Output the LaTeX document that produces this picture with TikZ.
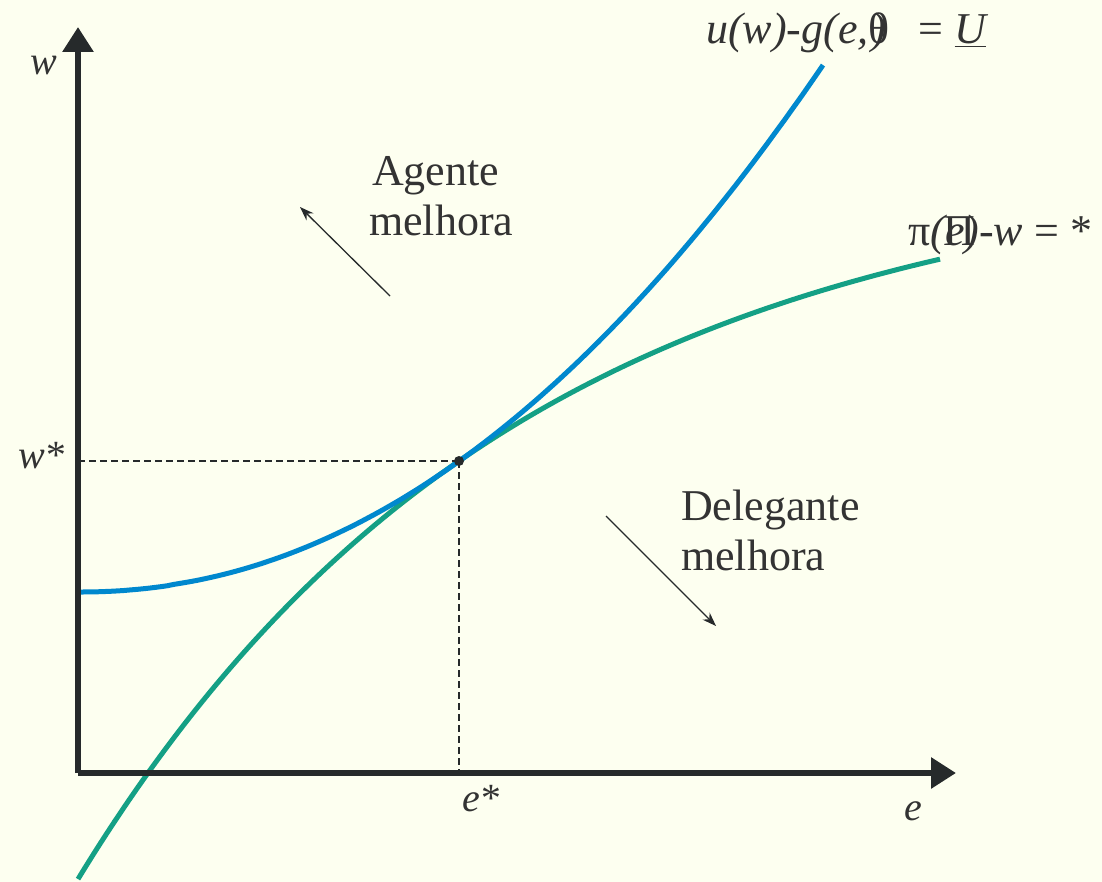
\documentclass[tikz,border=0pt]{standalone}
\usepackage{fontspec}
\setmainfont{Liberation Serif}
\usetikzlibrary{arrows.meta}
\definecolor{bg}{RGB}{253,255,240}
\definecolor{axc}{RGB}{38,42,43}
\definecolor{bluec}{RGB}{0,136,206}
\definecolor{greenc}{RGB}{20,160,133}
\definecolor{txt}{RGB}{51,51,51}
\tikzset{
  axis/.style={draw=axc,line width=6pt,-{Triangle[width=30pt,length=25pt]}},
  curve/.style={line width=5pt},
  guide/.style={draw=axc,line width=1.2pt,dash pattern=on 7pt off 4pt},
  hint/.style={draw=axc,line width=1.3pt,-{Stealth[width=10pt,length=14pt]}},
  lbl/.style={text=txt,font=\fontsize{40}{46}\selectfont\itshape,inner sep=0pt},
  clbl/.style={text=txt,font=\fontsize{44}{50}\selectfont\itshape,inner sep=0pt},
  body/.style={text=txt,font=\fontsize{44}{50}\selectfont,align=left,inner sep=0pt}
}
\begin{document}
\begin{tikzpicture}[x=1pt,y=-1pt]
\fill[bg] (0,0) rectangle (1102,882);
\useasboundingbox (0,0) rectangle (1102,882);
\coordinate (O) at (78,773);
\coordinate (ytip) at (78,27);
\coordinate (xtip) at (956,773);
\coordinate (P) at (459,461);
\coordinate (wP) at (78,461);
\coordinate (eP) at (459,773);
% curves
\draw[curve,greenc] plot[domain=78:940,samples=120] (\x,{461-303.6*(1-exp(-(\x-459)/440))});
\draw[curve,bluec] plot[domain=80:823,samples=120] (\x,{592-527*((\x-80)/743)^2.07});
% guides
\draw[guide] (wP) -- (P);
\draw[guide] (P) -- (eP);
\fill[axc] (P) circle (5pt);
% axes
\draw[axis] (O) -- (ytip);
\draw[axis] (O) -- (xtip);
% axis labels
\node[lbl,anchor=base west] (wl) at (30,75) {w};
\node[lbl,anchor=base west] (wsl) at (18,468) {w*};
\node[lbl,anchor=base west] (esl) at (462,811) {e*};
\node[lbl,anchor=base west] (el) at (904,820) {e};
% region texts
\node[body,anchor=north west] (ag) at (369,156) {\hspace*{3pt}Agente\\melhora};
\node[body,anchor=north west] (dl) at (681,490) {Delegante\\melhora};
\coordinate (a1s) at (390,296);
\coordinate (a1e) at (300,207);
\coordinate (a2s) at (606,516);
\coordinate (a2e) at (716,626);
\draw[hint] (a1s) -- (a1e);
\draw[hint] (a2s) -- (a2e);
% curve labels
\node[clbl,anchor=base west] (ul) at (706,44) {u(w)-g(e,\rlap{\kern3pt)}\upshape θ\hspace{29pt}= \itshape\underline{U}};
\node[clbl,anchor=base west] (pl) at (908,246) {\upshape π\itshape(\rlap{\upshape\kern-2pt Π}e)-w \upshape = *};
\end{tikzpicture}
\end{document}
